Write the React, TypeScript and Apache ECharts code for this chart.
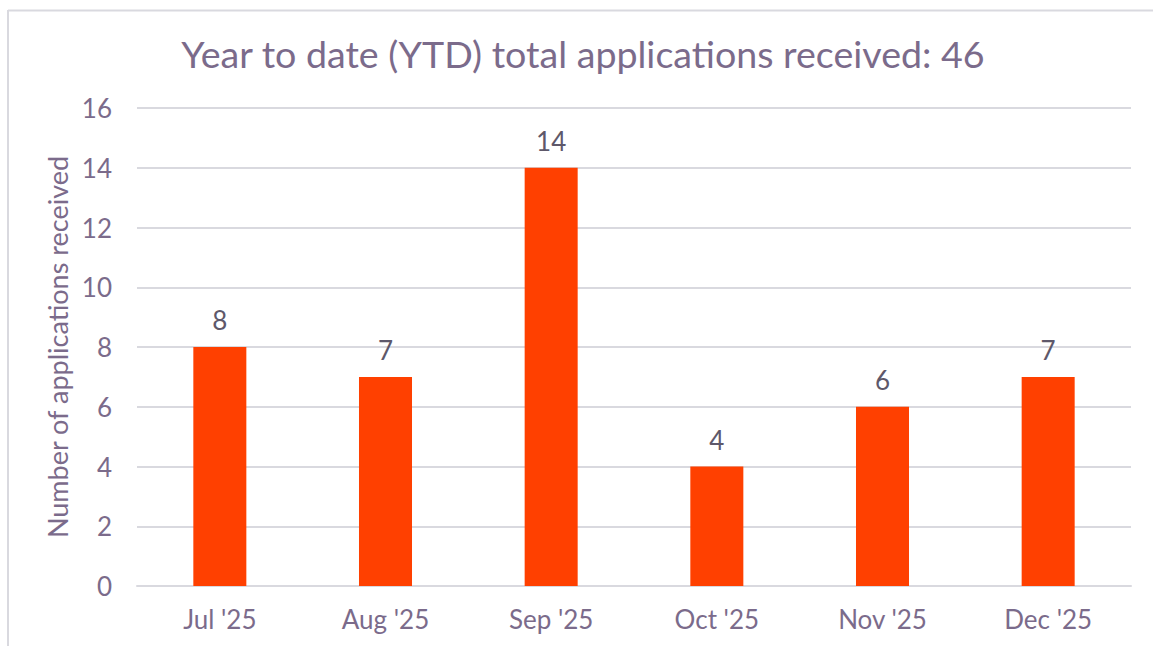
import React, { useEffect, useRef } from "react";
import * as echarts from "echarts";

const categories = ["Jul '25", "Aug '25", "Sep '25", "Oct '25", "Nov '25", "Dec '25"];
const applications = [8, 7, 14, 4, 6, 7];
const titleText = "Year to date (YTD) total applications received: 46";
const yAxisName = "Number of applications received";

const W = 1153;
const H = 646;
const textColor = "#7B6B8B";
const labelColor = "#5E586A";
const font = "Lato, 'Noto Sans', sans-serif";

export default function App() {
  const ref = useRef<HTMLDivElement>(null);
  useEffect(() => {
    if (!ref.current) return;
    const chart = echarts.init(ref.current, undefined, { renderer: "svg" });
    chart.setOption({
      animation: false,
      backgroundColor: "#ffffff",
      textStyle: { fontFamily: font },
      title: {
        text: titleText,
        left: 578,
        textAlign: "center",
        top: 29,
        textStyle: { fontFamily: font, fontSize: 37.6, fontWeight: "normal", color: textColor },
      },
      grid: { left: 137, right: 22, top: 108, bottom: 60, containLabel: false },
      xAxis: {
        type: "category",
        data: categories,
        axisLine: { show: true, lineStyle: { color: "#D9D9DF", width: 2 } },
        axisTick: { show: false },
        axisLabel: { fontFamily: font, fontSize: 26, color: textColor, margin: 20 },
      },
      yAxis: {
        type: "value",
        min: 0,
        max: 16,
        interval: 2,
        name: yAxisName,
        nameLocation: "middle",
        nameGap: 66,
        nameRotate: 90,
        nameTextStyle: { fontFamily: font, fontSize: 27, color: textColor },
        axisLine: { show: false },
        axisTick: { show: false },
        axisLabel: { fontFamily: font, fontSize: 26, color: textColor, margin: 25 },
        splitLine: { lineStyle: { color: "#D9D9DF", width: 2 } },
      },
      series: [
        {
          type: "bar",
          data: applications,
          barWidth: "32%",
          itemStyle: { color: "#FF4000" },
          label: {
            show: true,
            position: "top",
            distance: 14,
            fontFamily: font,
            fontSize: 26,
            color: labelColor,
          },
        },
      ],
      graphic: [
        { type: "line", shape: { x1: 8, y1: 10.5, x2: W, y2: 10.5 }, style: { stroke: "#D9D9DF", lineWidth: 2 } },
        { type: "line", shape: { x1: 8, y1: 10, x2: 8, y2: H }, style: { stroke: "#D9D9DF", lineWidth: 2 } },
      ],
    });
    return () => chart.dispose();
  }, []);
  return (
    <div
      ref={ref}
      style={{ position: "fixed", left: 0, top: 0, width: W, height: H }}
    />
  );
}
